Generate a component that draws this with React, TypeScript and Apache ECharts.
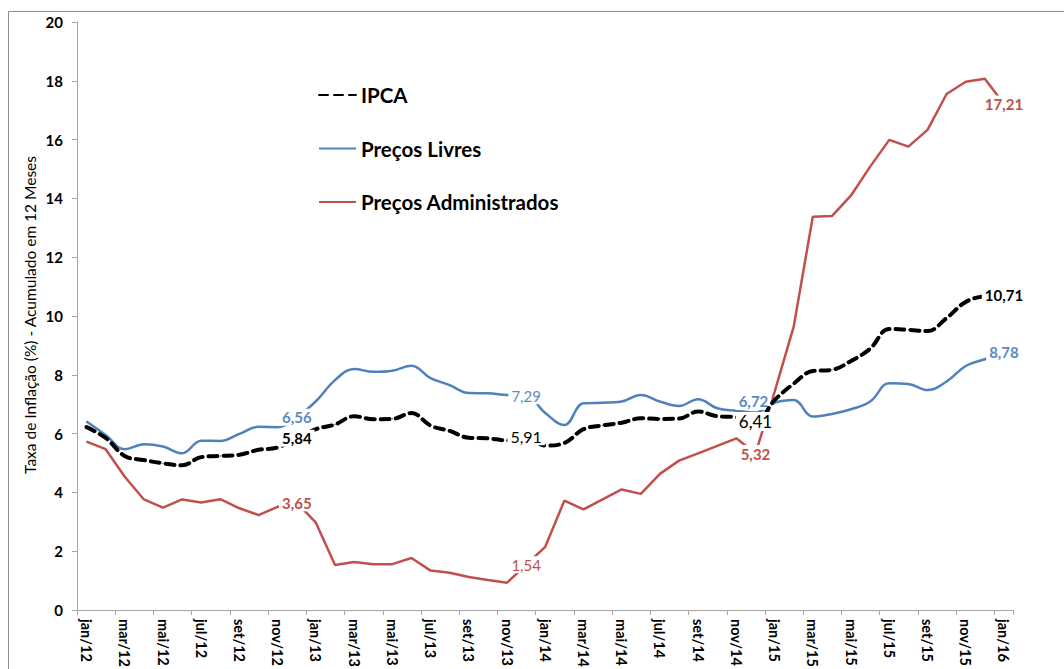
import React, { useEffect, useRef } from "react";
import * as echarts from "echarts";

const categories = [
  "jan/12", "fev/12", "mar/12", "abr/12", "mai/12", "jun/12", "jul/12", "ago/12", "set/12", "out/12", "nov/12", "dez/12",
  "jan/13", "fev/13", "mar/13", "abr/13", "mai/13", "jun/13", "jul/13", "ago/13", "set/13", "out/13", "nov/13", "dez/13",
  "jan/14", "fev/14", "mar/14", "abr/14", "mai/14", "jun/14", "jul/14", "ago/14", "set/14", "out/14", "nov/14", "dez/14",
  "jan/15", "fev/15", "mar/15", "abr/15", "mai/15", "jun/15", "jul/15", "ago/15", "set/15", "out/15", "nov/15", "dez/15",
  "jan/16",
];

const ipca = [
  6.22, 5.85, 5.24, 5.1, 4.99, 4.92, 5.2, 5.24, 5.28, 5.45, 5.53, 5.84,
  6.15, 6.31, 6.59, 6.49, 6.5, 6.7, 6.27, 6.09, 5.86, 5.84, 5.77, 5.91,
  5.59, 5.68, 6.15, 6.28, 6.37, 6.52, 6.5, 6.51, 6.75, 6.59, 6.56, 6.41,
  7.14, 7.7, 8.13, 8.17, 8.47, 8.89, 9.56, 9.53, 9.49, 9.93, 10.48, 10.67,
  10.71,
];

const precosLivres = [
  6.41, 5.95, 5.47, 5.64, 5.56, 5.33, 5.76, 5.75, 5.99, 6.23, 6.22, 6.56,
  7.1, 7.82, 8.2, 8.1, 8.14, 8.31, 7.89, 7.65, 7.38, 7.37, 7.31, 7.29,
  6.7, 6.29, 7.03, 7.05, 7.09, 7.31, 7.09, 6.94, 7.17, 6.86, 6.78, 6.72,
  7.05, 7.14, 6.58, 6.67, 6.83, 7.09, 7.71, 7.69, 7.48, 7.77, 8.3, 8.53,
  8.78,
];

const precosAdministrados = [
  5.73, 5.47, 4.53, 3.76, 3.48, 3.76, 3.66, 3.77, 3.46, 3.23, 3.51, 3.65,
  2.97, 1.53, 1.63, 1.56, 1.56, 1.77, 1.34, 1.27, 1.12, 1.02, 0.93, 1.54,
  2.15, 3.72, 3.42, 3.76, 4.1, 3.95, 4.63, 5.08, 5.33, 5.58, 5.84, 5.32,
  7.42, 9.64, 13.38, 13.4, 14.1, 15.08, 15.99, 15.76, 16.33, 17.55, 17.97, 18.07,
  17.21,
];

const labeledIndices = [11, 23, 35, 48];

const FONT = "Lato, 'Open Sans', sans-serif";

const fmt = (v: number) => v.toFixed(2).replace(".", ",");

function buildData(
  values: number[],
  color: string,
  weights: Record<number, string>,
  offsets: Record<number, number[]>,
  sizes: Record<number, number>
) {
  return values.map((v, i) => {
    if (!labeledIndices.includes(i)) return v;
    return {
      value: v,
      label: {
        show: true,
        position: "inside",
        formatter: fmt(v),
        color,
        fontFamily: FONT,
        fontSize: sizes[i] || 15,
        fontWeight: weights[i] || "bold",
        backgroundColor: "#ffffff",
        padding: [1, 3],
        offset: offsets[i] || [0, 0],
      },
    };
  });
}

export default function App() {
  const ref = useRef<HTMLDivElement>(null);

  useEffect(() => {
    if (!ref.current) return;
    const chart = echarts.init(ref.current, null, { renderer: "svg" });

    const blue = "#4F81BD";
    const red = "#C0504D";

    chart.setOption({
      animation: false,
      backgroundColor: "#ffffff",
      grid: {
        left: 77,
        top: 22,
        width: 936.5,
        height: 588,
        containLabel: false,
        outerBoundsMode: "none",
      },
      legend: {
        orient: "vertical",
        left: 318,
        top: 84,
        padding: 0,
        itemWidth: 37,
        itemHeight: 14,
        itemGap: 31.5,
        itemStyle: { opacity: 0 },
        textStyle: {
          fontFamily: FONT,
          fontSize: 20.5,
          fontWeight: "bold",
          color: "#000000",
          lineHeight: 22,
        },
        data: ["IPCA", "Preços Livres", "Preços Administrados"],
      },
      graphic: [
        {
          type: "rect",
          shape: { x: 8.5, y: 11.5, width: 1200, height: 800 },
          style: { fill: "none", stroke: "#8c8c8c", lineWidth: 1 },
          silent: true,
          z: -1,
        },
        {
          type: "text",
          x: 30,
          y: 315,
          rotation: Math.PI / 2,
          style: {
            text: "Taxa de Inflação (%) - Acumulado em 12 Meses",
            fontFamily: FONT,
            fontSize: 15.5,
            fill: "#000000",
            align: "center",
            verticalAlign: "middle",
          },
        },
      ],
      xAxis: {
        type: "category",
        data: categories,
        boundaryGap: true,
        axisLine: { lineStyle: { color: "#a6a6a6", width: 1 } },
        axisTick: { show: true, interval: 1, length: 5, lineStyle: { color: "#a6a6a6" } },
        axisLabel: {
          interval: 1,
          rotate: -90,
          margin: 9,
          fontFamily: FONT,
          fontSize: 14.5,
          fontWeight: "bold",
          color: "#000000",
        },
        splitLine: { show: false },
      },
      yAxis: {
        type: "value",
        min: 0,
        max: 20,
        interval: 2,
        axisLine: { show: true, lineStyle: { color: "#a6a6a6", width: 1 } },
        axisTick: { show: true, length: 5, lineStyle: { color: "#a6a6a6" } },
        axisLabel: {
          margin: 14,
          fontFamily: FONT,
          fontSize: 15,
          fontWeight: "bold",
          color: "#000000",
        },
        splitLine: { show: false },
      },
      series: [
        {
          name: "Preços Livres",
          type: "line",
          data: buildData(precosLivres, "#5a8ac6", { 23: "normal" }, { 35: [-2, -11] }, {}),
          smooth: 0.4,
          symbol: "circle",
          symbolSize: 1,
          showSymbol: true,
          showAllSymbol: true,
          itemStyle: { color: blue },
          lineStyle: { color: blue, width: 2.5 },
          z: 2,
        },
        {
          name: "Preços Administrados",
          type: "line",
          data: buildData(precosAdministrados, red, { 23: "normal" }, {}, {}),
          smooth: false,
          symbol: "circle",
          symbolSize: 1,
          showSymbol: true,
          showAllSymbol: true,
          itemStyle: { color: red },
          lineStyle: { color: red, width: 2.5 },
          z: 2,
        },
        {
          name: "IPCA",
          type: "line",
          data: buildData(ipca, "#000000", { 23: "normal", 35: "normal" }, {}, { 35: 17, 23: 16 }),
          smooth: 0.4,
          symbol: "circle",
          symbolSize: 1,
          showSymbol: true,
          showAllSymbol: true,
          itemStyle: { color: "#000000" },
          lineStyle: { color: "#000000", width: 4, type: [9, 6], cap: "round" },
          z: 3,
        },
      ],
    });

    return () => chart.dispose();
  }, []);

  return (
    <div
      ref={ref}
      style={{ position: "absolute", left: 0, top: 0, width: 1064, height: 669 }}
    />
  );
}
